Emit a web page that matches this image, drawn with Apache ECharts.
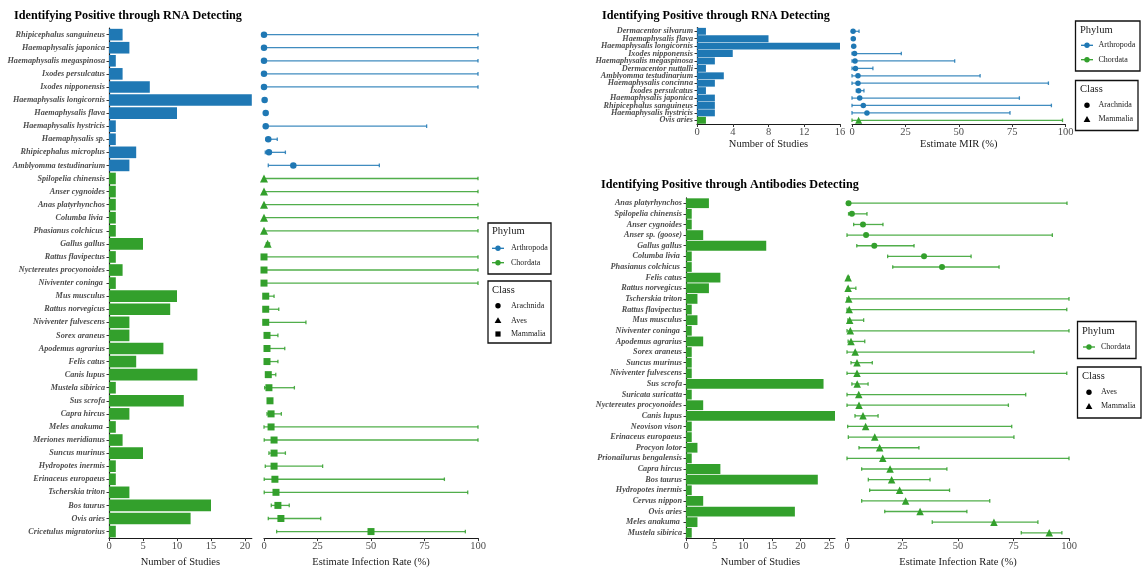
<!DOCTYPE html>
<html>
<head>
<meta charset="utf-8">
<script src="https://cdn.jsdelivr.net/npm/echarts@6/dist/echarts.min.js"></script>
<style>
  html, body { margin: 0; padding: 0; background: #fff; }
  #chart { width: 1144px; height: 573px; }
</style>
</head>
<body>
<div id="chart"></div>
<script>
// ---------- Hosts with positives found by RNA detection ----------
const rnaHostNames = [
  'Rhipicephalus sanguineus', 'Haemaphysalis japonica', 'Haemaphysalis megaspinosa', 'Ixodes persulcatus',
  'Ixodes nipponensis', 'Haemaphysalis longicornis', 'Haemaphysalis flava', 'Haemaphysalis hystricis',
  'Haemaphysalis sp.', 'Rhipicephalus microplus', 'Amblyomma testudinarium',
  'Spilopelia chinensis', 'Anser cygnoides', 'Anas platyrhynchos', 'Columba livia ', 'Phasianus colchicus ',
  'Gallus gallus',
  'Rattus flavipectus', 'Nyctereutes procyonoides', 'Niviventer coninga ', 'Mus musculus', 'Rattus norvegicus',
  'Niviventer fulvescens', 'Sorex araneus', 'Apodemus agrarius', 'Felis catus', 'Canis lupus', 'Mustela sibirica',
  'Sus scrofa', 'Capra hircus', 'Meles anakuma ', 'Meriones meridianus', 'Suncus murinus', 'Hydropotes inermis',
  'Erinaceus europaeus', 'Tscherskia triton', 'Bos taurus', 'Ovis aries', 'Cricetulus migratorius'
];
const rnaHostClass = [
  'Arachnida', 'Arachnida', 'Arachnida', 'Arachnida', 'Arachnida', 'Arachnida', 'Arachnida', 'Arachnida',
  'Arachnida', 'Arachnida', 'Arachnida',
  'Aves', 'Aves', 'Aves', 'Aves', 'Aves', 'Aves',
  'Mammalia', 'Mammalia', 'Mammalia', 'Mammalia', 'Mammalia', 'Mammalia', 'Mammalia', 'Mammalia', 'Mammalia',
  'Mammalia', 'Mammalia', 'Mammalia', 'Mammalia', 'Mammalia', 'Mammalia', 'Mammalia', 'Mammalia', 'Mammalia',
  'Mammalia', 'Mammalia', 'Mammalia', 'Mammalia'
];
const rnaHostStudies = [2, 3, 1, 2, 6, 21, 10, 1, 1, 4, 3, 1, 1, 1, 1, 1, 5, 1, 2, 1, 10, 9, 3, 3, 8, 4, 13, 1, 11, 3, 1, 2, 5, 1, 1, 3, 15, 12, 1];
const rnaHostRate = [0, 0, 0, 0, 0, 0.3, 0.8, 0.8, 2.0, 2.3, 13.7, 0, 0, 0, 0, 0, 1.7, 0, 0, 0, 0.8, 0.8, 0.8, 1.4, 1.4, 1.4, 2.0, 2.3, 2.8, 3.3, 3.3, 4.7, 4.7, 4.7, 5.1, 5.6, 6.5, 7.9, 50];
const rnaHostLow = [0, 0, 0, 0, 0, 0.1, 0.4, 0, 0.9, 0.6, 2.0, 0, 0, 0, 0, 0, 1.1, 0, 0, 0, 0.2, 0.2, 0.2, 0.5, 0.5, 0.5, 0.9, 0.3, 2.1, 1.4, 0, 0.1, 2.3, 0.6, 0.1, 0.1, 3.4, 2.0, 5.9];
const rnaHostHigh = [100, 100, 100, 100, 100, 0.6, 1.3, 76, 6.2, 10, 53.9, 100, 100, 100, 100, 100, 2.6, 100, 100, 100, 4.7, 6.9, 19.6, 6.5, 9.7, 6.5, 5.5, 14.2, 3.6, 8.1, 100, 100, 10, 27.4, 84.3, 95.2, 11.8, 26.5, 94.1];

// ---------- Minimum infection rate (MIR) by RNA detection ----------
const mirNames = [
  'Dermacentor silvarum', 'Haemaphysalis flava', 'Haemaphysalis longicornis', 'Ixodes nipponensis',
  'Haemaphysalis megaspinosa', 'Dermacentor nuttalli', 'Amblyomma testudinarium', 'Haemaphysalis concinna',
  'Ixodes persulcatus', 'Haemaphysalis japonica', 'Rhipicephalus sanguineus', 'Haemaphysalis hystricis', 'Ovis aries'
];
const mirClass = [
  'Arachnida', 'Arachnida', 'Arachnida', 'Arachnida', 'Arachnida', 'Arachnida', 'Arachnida', 'Arachnida',
  'Arachnida', 'Arachnida', 'Arachnida', 'Arachnida', 'Mammalia'
];
const mirStudies = [1, 8, 16, 4, 2, 1, 3, 2, 1, 2, 2, 2, 1];
const mirRate = [0.5, 0.6, 0.8, 1.2, 1.4, 1.6, 2.8, 2.8, 3.1, 3.6, 5.3, 7.0, 3.1];
const mirLow = [0, 0.4, 0.6, 0, 0, 0, 0, 0, 2.0, 0, 0, 0, 0];
const mirHigh = [3.3, 0.9, 1.0, 23.1, 48.1, 9.8, 60, 92, 5.6, 78.4, 93.4, 74, 98.6];

// ---------- Hosts with positives found by antibody detection ----------
const abNames = [
  'Anas platyrhynchos', 'Spilopelia chinensis', 'Anser cygnoides', 'Anser sp. (goose)', 'Gallus gallus',
  'Columba livia ', 'Phasianus colchicus ',
  'Felis catus', 'Rattus norvegicus', 'Tscherskia triton', 'Rattus flavipectus', 'Mus musculus',
  'Niviventer coninga ', 'Apodemus agrarius', 'Sorex araneus', 'Suncus murinus', 'Niviventer fulvescens',
  'Sus scrofa', 'Suricata suricatta', 'Nyctereutes procyonoides', 'Canis lupus', 'Neovison vison',
  'Erinaceus europaeus', 'Procyon lotor', 'Prionailurus bengalensis', 'Capra hircus', 'Bos taurus',
  'Hydropotes inermis', 'Cervus nippon', 'Ovis aries', 'Meles anakuma ', 'Mustela sibirica'
];
const abClass = [
  'Aves', 'Aves', 'Aves', 'Aves', 'Aves', 'Aves', 'Aves',
  'Mammalia', 'Mammalia', 'Mammalia', 'Mammalia', 'Mammalia', 'Mammalia', 'Mammalia', 'Mammalia', 'Mammalia',
  'Mammalia', 'Mammalia', 'Mammalia', 'Mammalia', 'Mammalia', 'Mammalia', 'Mammalia', 'Mammalia', 'Mammalia',
  'Mammalia', 'Mammalia', 'Mammalia', 'Mammalia', 'Mammalia', 'Mammalia', 'Mammalia'
];
const abStudies = [4, 1, 1, 3, 14, 1, 1, 6, 4, 2, 1, 2, 1, 3, 1, 1, 1, 24, 1, 3, 26, 1, 1, 2, 1, 6, 23, 1, 3, 19, 2, 1];
const abRate = [0.7, 2.2, 7.2, 8.6, 12.3, 34.7, 42.8, 0.5, 0.5, 0.8, 1.0, 1.2, 1.5, 1.8, 3.7, 4.5, 4.5, 4.6, 5.3, 5.4, 7.2, 8.4, 12.5, 14.7, 16.1, 19.4, 20.1, 23.7, 26.4, 32.9, 66.2, 91.1];
const abLow = [0, 0.7, 3.0, 0, 4.4, 18.3, 20.6, 0.2, 0.2, 0, 0, 0.4, 0, 0.5, 0, 1.8, 0, 2.2, 0, 0, 3.6, 0.3, 0.6, 5.4, 0, 6.6, 9.6, 10.2, 6.6, 17.0, 38.4, 78.5];
const abHigh = [99.1, 9.0, 16.2, 92.5, 30.2, 55.9, 68.5, 1.0, 4.0, 100, 99, 7.5, 100, 8.0, 84.2, 11.4, 99, 9.5, 80.5, 72.7, 14.0, 74.2, 75.2, 32.4, 100, 45.0, 37.4, 46.2, 64.3, 54.0, 86.0, 96.8];

// ---------- Look ----------
const SERIF = '"Liberation Serif", "DejaVu Serif", "Times New Roman", serif';
const PHYLUM_COLOR = { Arthropoda: '#1F78B4', Chordata: '#33A02C' };
const CLASS_PHYLUM = { Arachnida: 'Arthropoda', Aves: 'Chordata', Mammalia: 'Chordata' };
const LABEL_GRAY = '#4D4D4D';

const panels = [
  {
    title: 'Identifying Positive through RNA Detecting', titlePos: [14, 9.5],
    names: rnaHostNames, cls: rnaHostClass, studies: rnaHostStudies,
    rate: rnaHostRate, low: rnaHostLow, high: rnaHostHigh,
    studyMax: 21, studyTicks: [0, 5, 10, 15, 20], rateName: 'Estimate Infection Rate (%)',
    shapes: { Arachnida: 'circle', Aves: 'triangle', Mammalia: 'rect' },
    sizes: { circle: 6.5, triangle: 8, rect: 7 },
    top: 28.1, height: 513.5, barLeft: 109, barWidth: 142.8, dotLeft: 264, dotWidth: 214,
    gap: '11%'
  },
  {
    title: 'Identifying Positive through RNA Detecting', titlePos: [602, 9.5],
    names: mirNames, cls: mirClass, studies: mirStudies,
    rate: mirRate, low: mirLow, high: mirHigh,
    studyMax: 16, studyTicks: [0, 4, 8, 12, 16], rateName: 'Estimate MIR (%)',
    shapes: { Arachnida: 'circle', Mammalia: 'triangle' },
    sizes: { circle: 5.5, triangle: 7 },
    top: 27.6, height: 96.4, barLeft: 697, barWidth: 143, dotLeft: 852, dotWidth: 213.5,
    gap: '7%'
  },
  {
    title: 'Identifying Positive through Antibodies Detecting', titlePos: [601, 179],
    names: abNames, cls: abClass, studies: abStudies,
    rate: abRate, low: abLow, high: abHigh,
    studyMax: 26, studyTicks: [0, 5, 10, 15, 20, 25], rateName: 'Estimate Infection Rate (%)',
    shapes: { Aves: 'circle', Mammalia: 'triangle' },
    sizes: { circle: 6, triangle: 7.5 },
    top: 197.9, height: 343.7, barLeft: 686, barWidth: 149, dotLeft: 847, dotWidth: 222,
    gap: '8%'
  }
];

const grid = [], xAxis = [], yAxis = [], series = [], title = [];

const tickLabel = { color: LABEL_GRAY, fontFamily: SERIF, fontSize: 10.5, margin: 3 };
const axisLine = { show: true, lineStyle: { color: '#1a1a1a', width: 1.2 } };
const axisTick = { show: true, length: 3, lineStyle: { color: '#333', width: 1 } };
const axisName = { color: '#1a1a1a', fontFamily: SERIF, fontSize: 10.5 };

panels.forEach((p, k) => {
  const gBar = k * 2, gDot = k * 2 + 1;
  title.push({
    text: p.title, left: p.titlePos[0], top: p.titlePos[1], padding: 0,
    textStyle: { fontFamily: SERIF, fontWeight: 'bold', fontSize: 12.2, color: '#000' }
  });
  grid.push({ left: p.barLeft, top: p.top, width: p.barWidth, height: p.height });
  grid.push({ left: p.dotLeft, top: p.top, width: p.dotWidth, height: p.height });

  // bar panel: number of studies per host
  xAxis.push({
    gridIndex: gBar, type: 'value', min: 0, max: p.studyMax,
    name: 'Number of Studies', nameLocation: 'middle', nameGap: 14, nameTextStyle: axisName,
    axisLine, splitLine: { show: false },
    axisTick: { ...axisTick, customValues: p.studyTicks },
    axisLabel: { ...tickLabel, customValues: p.studyTicks }
  });
  yAxis.push({
    gridIndex: gBar, type: 'category', inverse: true, data: p.names,
    axisLine, axisTick: { show: true, length: 2.5, alignWithLabel: true, lineStyle: { color: '#333' } },
    axisLabel: {
      color: LABEL_GRAY, fontFamily: SERIF, fontStyle: 'italic', fontWeight: 'bold',
      fontSize: 8.2, margin: 4, interval: 0
    }
  });

  // dot panel: estimated rate with interval
  xAxis.push({
    gridIndex: gDot, type: 'value', min: 0, max: 100, interval: 25,
    name: p.rateName, nameLocation: 'middle', nameGap: 14, nameTextStyle: axisName,
    axisLine, axisTick, axisLabel: tickLabel, splitLine: { show: false }
  });
  yAxis.push({ gridIndex: gDot, type: 'category', inverse: true, data: p.names, show: false });

  const colors = p.cls.map(c => PHYLUM_COLOR[CLASS_PHYLUM[c]]);

  series.push({
    type: 'bar', xAxisIndex: gBar, yAxisIndex: gBar, barCategoryGap: p.gap,
    silent: true,
    data: p.studies.map((v, i) => ({ value: v, itemStyle: { color: colors[i] } }))
  });

  series.push({
    type: 'custom', xAxisIndex: gDot, yAxisIndex: gDot, z: 2, silent: true,
    encode: { x: [0, 1], y: 2 },
    data: p.low.map((lo, i) => [lo, p.high[i], i]),
    renderItem(params, api) {
      const i = api.value(2);
      const a = api.coord([api.value(0), i]);
      const b = api.coord([api.value(1), i]);
      const style = { stroke: colors[params.dataIndex], lineWidth: 1.3, opacity: 0.85 };
      const cap = 1.8;
      return {
        type: 'group', children: [
          { type: 'line', shape: { x1: a[0], y1: a[1], x2: b[0], y2: b[1] }, style },
          { type: 'line', shape: { x1: a[0], y1: a[1] - cap, x2: a[0], y2: a[1] + cap }, style },
          { type: 'line', shape: { x1: b[0], y1: b[1] - cap, x2: b[0], y2: b[1] + cap }, style }
        ]
      };
    }
  });

  series.push({
    type: 'scatter', xAxisIndex: gDot, yAxisIndex: gDot, z: 3, silent: true,
    data: p.rate.map((v, i) => {
      const shape = p.shapes[p.cls[i]];
      return {
        value: [v, i], symbol: shape, symbolSize: p.sizes[shape],
        itemStyle: { color: colors[i], opacity: 1 }
      };
    })
  });
});

// ---------- Legend boxes ----------
const legendBoxes = [
  { x: 488, y: 223, w: 63, h: 51, title: 'Phylum', tx: 492, ty: 231.5, keyX: 498, textX: 511,
    phylum: [['Arthropoda', 248.3], ['Chordata', 262.7]] },
  { x: 488, y: 281, w: 63, h: 62, title: 'Class', tx: 492, ty: 290.5, keyX: 498, textX: 511,
    cls: [['Arachnida', 'circle', 305.7], ['Aves', 'triangle', 320.5], ['Mammalia', 'rect', 334]] },
  { x: 1075.5, y: 21, w: 64.5, h: 50, title: 'Phylum', tx: 1080, ty: 30, keyX: 1087, textX: 1098.5,
    phylum: [['Arthropoda', 45.3], ['Chordata', 59.7]] },
  { x: 1075.5, y: 80.5, w: 62.5, h: 50, title: 'Class', tx: 1080, ty: 89, keyX: 1087, textX: 1098.5,
    cls: [['Arachnida', 'circle', 105.3], ['Mammalia', 'triangle', 119.3]] },
  { x: 1077.5, y: 321.5, w: 58.5, h: 37, title: 'Phylum', tx: 1082, ty: 331, keyX: 1089, textX: 1101,
    phylum: [['Chordata', 347]] },
  { x: 1077.5, y: 367, w: 63.5, h: 51, title: 'Class', tx: 1082, ty: 376, keyX: 1089, textX: 1101,
    cls: [['Aves', 'circle', 392.3], ['Mammalia', 'triangle', 406.3]] }
];

function keyShape(kind, cx, cy, color) {
  if (kind === 'circle') return { type: 'circle', shape: { cx, cy, r: 2.7 }, style: { fill: color } };
  if (kind === 'rect') return { type: 'rect', shape: { x: cx - 2.6, y: cy - 2.6, width: 5.2, height: 5.2 }, style: { fill: color } };
  return { type: 'polygon', shape: { points: [[cx, cy - 3.3], [cx - 3.4, cy + 2.6], [cx + 3.4, cy + 2.6]] }, style: { fill: color } };
}

const graphic = [];
legendBoxes.forEach(b => {
  graphic.push({ type: 'rect', z: 10, shape: { x: b.x, y: b.y, width: b.w, height: b.h },
    style: { fill: '#fff', stroke: '#111', lineWidth: 1.3 } });
  graphic.push({ type: 'text', z: 11, x: b.tx, y: b.ty,
    style: { text: b.title, font: '10.5px ' + SERIF, fill: '#1a1a1a', verticalAlign: 'middle', align: 'left' } });
  (b.phylum || []).forEach(([name, y]) => {
    const c = PHYLUM_COLOR[name];
    graphic.push({ type: 'line', z: 11, shape: { x1: b.keyX - 6, y1: y, x2: b.keyX + 6, y2: y }, style: { stroke: c, lineWidth: 1.3 } });
    graphic.push({ ...keyShape('circle', b.keyX, y, c), z: 12 });
    graphic.push({ type: 'text', z: 11, x: b.textX, y,
      style: { text: name, font: '8px ' + SERIF, fill: '#1a1a1a', verticalAlign: 'middle', align: 'left' } });
  });
  (b.cls || []).forEach(([name, kind, y]) => {
    graphic.push({ ...keyShape(kind, b.keyX, y, '#000'), z: 12 });
    graphic.push({ type: 'text', z: 11, x: b.textX, y,
      style: { text: name, font: '8px ' + SERIF, fill: '#1a1a1a', verticalAlign: 'middle', align: 'left' } });
  });
});

const chart = echarts.init(document.getElementById('chart'), null, { renderer: 'canvas' });
chart.setOption({
  backgroundColor: '#fff',
  animation: false,
  title, grid, xAxis, yAxis, series, graphic
});
</script>
</body>
</html>
